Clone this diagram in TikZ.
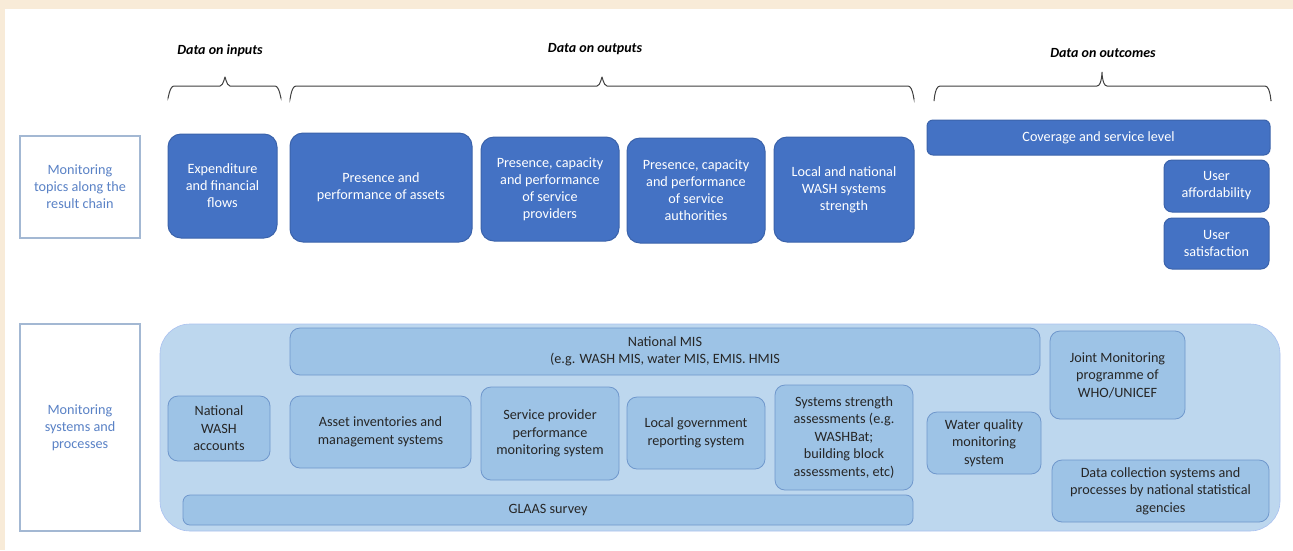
\documentclass[tikz,border=0pt]{standalone}
\usepackage{fontspec}
\setmainfont{Carlito}
\definecolor{beige}{HTML}{F8EBD8}
\definecolor{dblue}{HTML}{4472C4}
\definecolor{dborder}{HTML}{3B63AB}
\definecolor{lbox}{HTML}{9DC3E6}
\definecolor{lborder}{HTML}{6F97CC}
\definecolor{cont}{HTML}{BDD7EE}
\definecolor{sideborder}{HTML}{A3B8D3}
\definecolor{sidetext}{HTML}{5A82C6}
\definecolor{darktext}{HTML}{262626}
\tikzset{
  topic/.style={draw=dborder, line width=1pt, fill=dblue, rounded corners=13pt, text=white,
    align=center, inner sep=0pt, font=\fontsize{14.2}{17}\selectfont},
  sysbox/.style={draw=lborder, line width=0.8pt, fill=lbox, rounded corners=10pt, text=darktext,
    align=center, inner sep=0pt, font=\fontsize{14.2}{17.5}\selectfont},
  sidebox/.style={draw=sideborder, line width=1.3pt, fill=white, text=sidetext,
    align=center, inner sep=0pt, font=\fontsize{14.2}{17}\selectfont},
  header/.style={font=\fontsize{14}{16}\selectfont\bfseries\itshape, text=black},
  bracepath/.style={draw=black!75, line width=1pt},
}
\begin{document}
\begin{tikzpicture}[x=1pt,y=-1pt]
\fill[beige] (0,0) rectangle (1293,550);
\fill[white] (5,9) rectangle (1293,550);
\useasboundingbox (0,0) rectangle (1293,550);

% headers
\node[header] (hin) at (220,51) {Data on inputs};
\node[header] (hout) at (595,49) {Data on outputs};
\node[header] (hoc) at (1103,53) {Data on outcomes};

% braces
\draw[bracepath] (168,97) to[out=-90,in=180] (174,86) -- (220,86) to[out=0,in=90] (225,78) to[out=90,in=180] (230,86) -- (275,86) to[out=0,in=-90] (281,97);
\draw[bracepath] (290,98) to[out=-90,in=180] (296,86) -- (597,86) to[out=0,in=90] (602,78) to[out=90,in=180] (607,86) -- (908,86) to[out=0,in=-90] (914,98);
\draw[bracepath] (934,100) to[out=-90,in=180] (940,86) -- (1097,86) to[out=0,in=90] (1102,73) to[out=90,in=180] (1107,86) -- (1265,86) to[out=0,in=-90] (1271,100);

% row 1
\node[sidebox, minimum width=120pt, minimum height=102pt] (topics) at (80,187) {Monitoring\\topics along the\\result chain};
\node[topic, minimum width=109pt, minimum height=104pt] (exp) at (222.5,186) {Expenditure\\and financial\\flows};
\node[topic, minimum width=182pt, minimum height=109pt] (assets) at (381,187.5) {Presence and\\performance of assets};
\node[topic, minimum width=138pt, minimum height=104pt] (prov) at (550,189) {Presence, capacity\\and performance\\of service\\providers};
\node[topic, minimum width=138pt, minimum height=105pt] (auth) at (696,190.5) {Presence, capacity\\and performance\\of service\\authorities};
\node[topic, minimum width=140pt, minimum height=105pt] (wash) at (844,189.5) {Local and national\\WASH systems\\strength};
\node[topic, rounded corners=6pt, minimum width=343pt, minimum height=35pt] (cov) at (1098.5,137.5) {Coverage and service level};
\node[topic, rounded corners=8pt, minimum width=105pt, minimum height=52pt] (aff) at (1216.5,186) {User\\affordability};
\node[topic, rounded corners=8pt, minimum width=105pt, minimum height=51pt] (sat) at (1216.5,243.5) {User\\satisfaction};

% row 2
\node[sidebox, minimum width=120pt, minimum height=207pt] (systems) at (80,427.5) {Monitoring\\systems and\\processes};
\fill[cont, draw=cont!90!blue, line width=0.6pt, rounded corners=30pt] (160,324) rectangle (1280,531);
\node[sysbox, minimum width=750pt, minimum height=47pt] (mis) at (665,351.5) {National MIS\\(e.g. WASH MIS, water MIS, EMIS. HMIS};
\node[sysbox, minimum width=102pt, minimum height=65pt] (nwa) at (219,428.5) {National\\WASH\\accounts};
\node[sysbox, minimum width=181pt, minimum height=72pt] (asset) at (380.5,432) {Asset inventories and\\management systems};
\node[sysbox, minimum width=138pt, minimum height=93pt] (sp) at (550,433.5) {Service provider\\performance\\monitoring system};
\node[sysbox, minimum width=138pt, minimum height=72pt] (lg) at (696,433) {Local government\\reporting system};
\node[sysbox, minimum width=138pt, minimum height=105pt] (ss) at (844,437.5) {Systems strength\\assessments (e.g.\\WASHBat;\\building block\\assessments, etc)};
\node[sysbox, minimum width=114pt, minimum height=62pt] (wq) at (984,443) {Water quality\\monitoring\\system};
\node[sysbox, minimum width=135pt, minimum height=88pt] (jmp) at (1117.5,375) {Joint Monitoring\\programme of\\WHO/UNICEF};
\node[sysbox, minimum width=217pt, minimum height=62pt] (dc) at (1160.5,491) {Data collection systems and\\processes by national statistical\\agencies};
\node[sysbox, rounded corners=7pt, minimum width=730pt, minimum height=30pt] (glaas) at (548,510) {GLAAS survey};
\end{tikzpicture}
\end{document}
